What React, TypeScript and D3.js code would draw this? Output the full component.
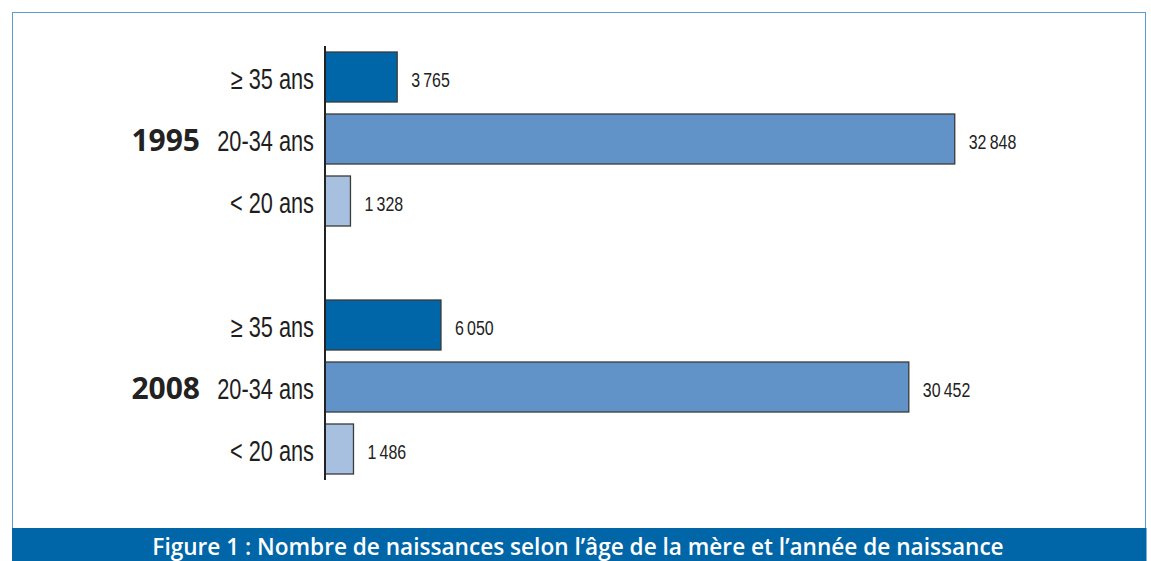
import * as d3 from 'd3'
import React from 'react'

// values
const years = ['1995', '2008']
const ageGroups = ['≥ 35 ans', '20-34 ans', '< 20 ans']
const births1995 = [3765, 32848, 1328]
const births2008 = [6050, 30452, 1486]
const barColors = ['#0066a8', '#6193c8', '#a8c0e0']
const title = 'Figure 1 : Nombre de naissances selon l’âge de la mère et l’année de naissance'

const W = 1151
const H = 561
const sans = '"Liberation Sans", Arial, sans-serif'

const fmt = (v: number) => d3.format(',')(v).replace(/,/g, '\u2009')

// condensed look: squeeze horizontally around the anchor point
const squeeze = (x: number, y: number, k: number) => `translate(${x},${y}) scale(${k},1)`

const App = () => {
  const axisX = 325
  const rows: { key: string; year: string; age: string; ageIdx: number; value: number }[] = []
  const slots: string[] = []
  years.forEach((y, yi) => {
    const vals = yi === 0 ? births1995 : births2008
    ageGroups.forEach((a, ai) => {
      const key = y + '-' + ai
      rows.push({ key, year: y, age: a, ageIdx: ai, value: vals[ai] })
      slots.push(key)
    })
    if (yi === 0) slots.push('gap')
  })

  const yScale = d3
    .scaleBand()
    .domain(slots)
    .range([46, 480])
    .paddingInner(12 / 62)
    .paddingOuter(6 / 62)

  const xScale = d3.scaleLinear().domain([0, 35000]).range([axisX, axisX + 671])

  return (
    <svg width={W} height={H} style={{ position: 'absolute', left: 0, top: 0 }}>
      <rect x={0} y={0} width={W} height={H} fill="#fff" />
      {/* frame */}
      <rect x={12.5} y={12.5} width={1133} height={530} fill="none" stroke="#5b9bd0" strokeWidth={1} />
      <rect x={12} y={528} width={1134.5} height={H - 528} fill="#0066a8" />
      <text
        x={578}
        y={555}
        textAnchor="middle"
        fill="#fff"
        fontFamily='"Open Sans", sans-serif'
        fontWeight={600}
        fontSize={22.6}
      >
        {title}
      </text>

      {rows.map((r) => {
        const y0 = yScale(r.key) as number
        const bw = yScale.bandwidth()
        const cy = y0 + bw / 2
        return (
          <g key={r.key}>
            <rect
              x={xScale(0)}
              y={y0}
              width={xScale(r.value) - xScale(0)}
              height={bw}
              fill={barColors[r.ageIdx]}
              stroke="#3a3a3a"
              strokeWidth={1.3}
            />
            <text
              transform={squeeze(xScale(r.value) + 14, cy + 10, 0.76)}
              fontFamily={sans}
              fontSize={21}
              fill="#222"
            >
              {fmt(r.value)}
            </text>
            <text
              transform={squeeze(314, cy + 12, 0.75)}
              textAnchor="end"
              fontFamily={sans}
              fontSize={29}
              fill="#1e1e1e"
            >
              {r.age}
            </text>
            {r.ageIdx === 1 && (
              <text
                x={200}
                y={cy + 12}
                textAnchor="end"
                fontFamily='"Open Sans", sans-serif'
                fontWeight={700}
                fontSize={30}
                fill="#222"
              >
                {r.year}
              </text>
            )}
          </g>
        )
      })}

      {/* vertical axis */}
      <line x1={axisX} x2={axisX} y1={46} y2={480} stroke="#222" strokeWidth={2} />
    </svg>
  )
}

export default App
